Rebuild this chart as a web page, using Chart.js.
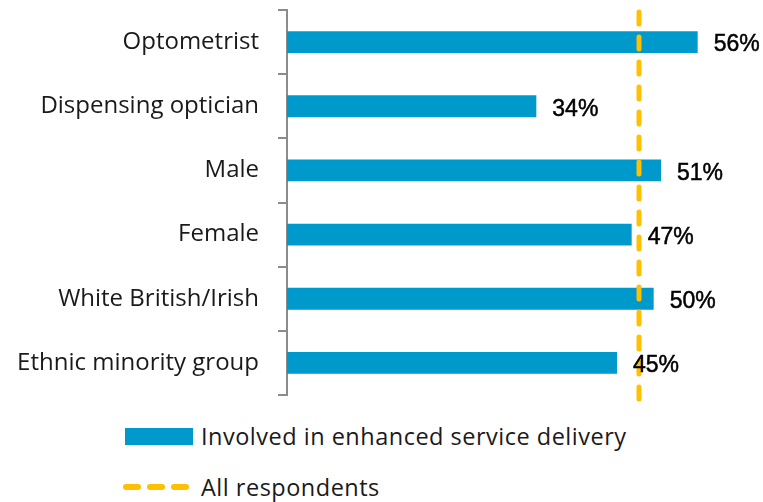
<!DOCTYPE html>
<html>
<head>
<meta charset="utf-8">
<script src="https://cdn.jsdelivr.net/npm/chart.js@4/dist/chart.umd.min.js"></script>
<style>
  html, body { margin: 0; padding: 0; background: #fff; }
  body { width: 763px; height: 502px; position: relative; overflow: hidden;
         font-family: "Open Sans", sans-serif; color: #1a1a1a; }
  #wrap { position: absolute; left: 0; top: 0; width: 763px; height: 415px; }
  .legend-item { position: absolute; left: 125px; display: flex; align-items: center;
                 font-size: 23.5px; letter-spacing: 0.5px; white-space: nowrap; }
  .swatch-bar { width: 68px; height: 17px; background: #0099CC; margin-right: 8px; }
  .swatch-dash { width: 66px; height: 6px; margin-right: 12px; display: flex; justify-content: space-between; }
  .swatch-dash span { width: 18px; height: 6px; border-radius: 3px; background: #FFC000; }
</style>
</head>
<body>
<div id="wrap"><canvas id="chart"></canvas></div>
<div class="legend-item" style="top:420px;"><div class="swatch-bar"></div><span id="lg1"></span></div>
<div class="legend-item" style="top:471px; left:123px;"><div class="swatch-dash"><span></span><span></span><span></span></div><span id="lg2"></span></div>
<script>
// Respondent groups and share involved in enhanced service delivery (%)
const categories = ["Optometrist", "Dispensing optician", "Male", "Female", "White British/Irish", "Ethnic minority group"];
const involvedValues = [56, 34, 51, 47, 50, 45];
const allRespondentsValue = 48;
const seriesNames = ["Involved in enhanced service delivery", "All respondents"];

document.getElementById("lg1").textContent = seriesNames[0];
document.getElementById("lg2").textContent = seriesNames[1];

const FONT = "'Open Sans', sans-serif";

// Dashed reference line for the all-respondents figure, plus value labels
const overlay = {
  id: "overlay",
  afterDatasetsDraw(chart) {
    const { ctx, chartArea, scales } = chart;
    const xPix = scales.x.getPixelForValue(allRespondentsValue);
    ctx.save();
    ctx.strokeStyle = "#FFC000";
    ctx.lineWidth = 5;
    ctx.lineCap = "round";
    ctx.setLineDash([12, 13]);
    ctx.beginPath();
    ctx.moveTo(xPix, chartArea.top + 2);
    ctx.lineTo(xPix, chartArea.bottom + 4);
    ctx.stroke();
    ctx.restore();

    ctx.save();
    ctx.fillStyle = "#000";
    ctx.font = "23px 'Liberation Sans', Arial, sans-serif";
    ctx.textAlign = "left";
    ctx.textBaseline = "middle";
    ctx.strokeStyle = "#000";
    ctx.lineWidth = 0.5;
    const meta = chart.getDatasetMeta(0);
    meta.data.forEach((bar, i) => {
      const txt = involvedValues[i] + "%";
      ctx.fillText(txt, bar.x + 16, bar.y + 3);
      ctx.strokeText(txt, bar.x + 16, bar.y + 3);
    });
    ctx.restore();
  }
};

new Chart(document.getElementById("chart"), {
  type: "bar",
  data: {
    labels: categories,
    datasets: [{
      label: seriesNames[0],
      data: involvedValues,
      backgroundColor: "#0099CC",
      borderWidth: 0,
      barPercentage: 0.68,
      categoryPercentage: 0.5
    }]
  },
  options: {
    indexAxis: "y",
    responsive: true,
    maintainAspectRatio: false,
    animation: false,
    layout: { padding: { top: 10, bottom: 20, right: 36, left: 0 } },
    plugins: { legend: { display: false }, tooltip: { enabled: false } },
    scales: {
      x: { display: false, min: 0, max: 60 },
      y: {
        afterFit(scale) {
          scale.width = 287;
          scale.paddingTop = 0;
          scale.paddingBottom = 0;
        },
        border: { display: true, color: "#8c8c8c", width: 2 },
        grid: { display: true, drawOnChartArea: false, drawTicks: true, tickLength: 9, color: "#8c8c8c", lineWidth: 2, offset: true },
        ticks: { color: "#1a1a1a", font: { family: FONT, size: 24 }, padding: 19 }
      }
    }
  },
  plugins: [overlay]
});
</script>
</body>
</html>
